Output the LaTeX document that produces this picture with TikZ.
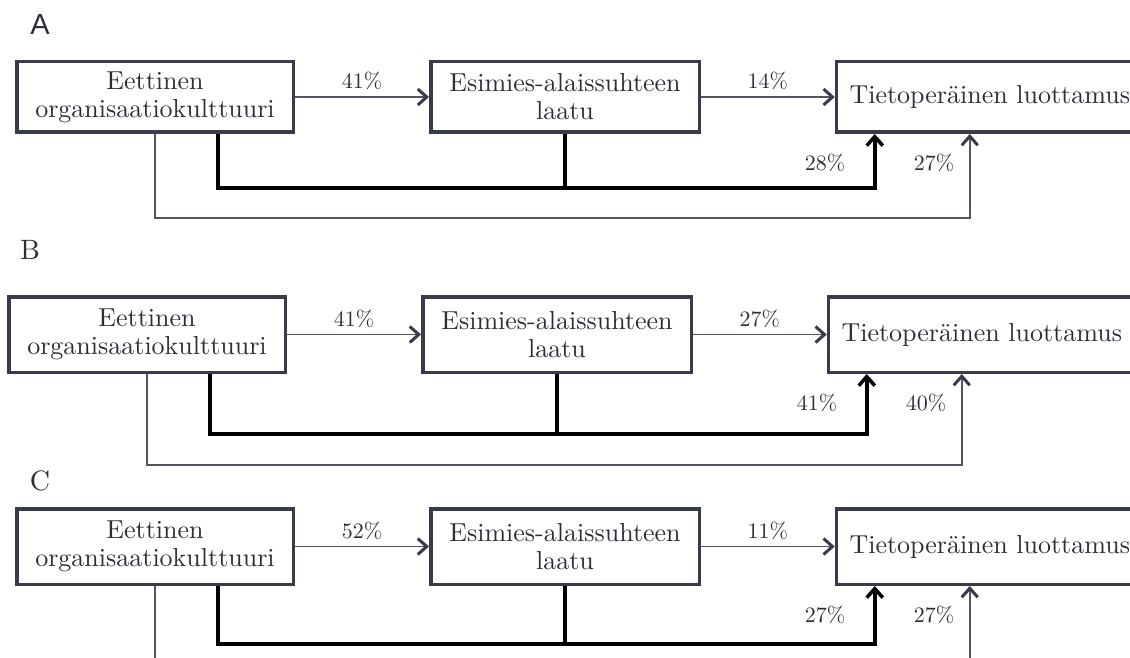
\documentclass[tikz,border=0pt]{standalone}
\usepackage{fontspec}
\setmainfont{lmroman10-regular.otf}
\newfontfamily\paneelifont{Liberation Sans}
\usetikzlibrary{arrows.meta}
\definecolor{reuna}{RGB}{58,59,74}
\definecolor{teksti}{RGB}{45,45,56}
\definecolor{ohutviiva}{RGB}{84,84,98}
\tikzset{
  laatikko/.style={draw=reuna, line width=3.5pt, text=teksti, inner sep=0pt,
    font=\fontsize{26}{28}\selectfont, align=center},
  pros/.style={text=teksti, inner sep=0pt, font=\fontsize{22}{24}\selectfont},
  paneeli/.style={text=teksti, inner sep=0pt, font=\fontsize{28}{30}\selectfont},
  karki/.style={-{Straight Barb[length=9pt,width=16pt,line width=3pt,color=reuna]}},
  nuoli/.style={draw=ohutviiva, line width=1.8pt, karki},
  ohut/.style={draw=ohutviiva, line width=1.5pt},
  paksu/.style={draw=black, line width=3.5pt},
  paksunuoli/.style={paksu, -{Straight Barb[length=9pt,width=16pt,line width=3.5pt]}}
}
\begin{document}
\begin{tikzpicture}[x=1pt,y=-1pt]
\clip (0,0) rectangle (1130,658);
\node[paneeli, font=\paneelifont\fontsize{29}{31}\selectfont] (pA) at (40,25) {A};
\node[paneeli] (pB) at (30,250) {B};
\node[paneeli] (pC) at (40,481) {C};
\foreach \pan/\dx/\y/\h/\yk/\yo/\pel/\plt/\pk/\po in
  {A/0/60/74/188/218/41/14/28/27, B/-8/295/79/434/465/41/27/41/40, C/0/507/79/644/700/52/11/27/27}{
  % laatikot
  \node[laatikko, minimum width=276.5pt, minimum height={(\h-3.5)*1pt}] (eo\pan) at (\dx+155, \y+\h/2) {Eettinen\\organisaatiokulttuuri};
  \node[laatikko, minimum width=268.5pt, minimum height={(\h-3.5)*1pt}] (el\pan) at (\dx+565, \y+\h/2) {Esimies-alaissuhteen\\laatu};
  \node[laatikko, anchor=west, inner xsep=13pt, minimum height={(\h-3.5)*1pt}] (tl\pan) at (\dx+834.75, \y+\h/2) {Tietoperäinen luottamus};
  % suorat polut
  \draw[nuoli] (eo\pan) -- node[pros, above=6pt] {\pel\%} (el\pan);
  \draw[nuoli] (el\pan) -- node[pros, above=6pt] {\plt\%} (tl\pan);
  % epasuora polku
  \coordinate (k\pan) at (\dx+565, \yk);
  \draw[paksu] (el\pan) -- (k\pan);
  \draw[paksunuoli] ([xshift=63pt]eo\pan.south) |- (k\pan) -| ([xshift=40pt]tl\pan.south west);
  \coordinate (m\pan) at (\dx+565, \yo);
  \draw[ohut, karki] (eo\pan.south) |- (m\pan) -| ([xshift=135pt]tl\pan.south west);
  \node[pros] (pk\pan) at (\dx+825, \y+\h+29) {\pk\%};
  \node[pros] (po\pan) at (\dx+934, \y+\h+29) {\po\%};
}
\end{tikzpicture}
\end{document}
